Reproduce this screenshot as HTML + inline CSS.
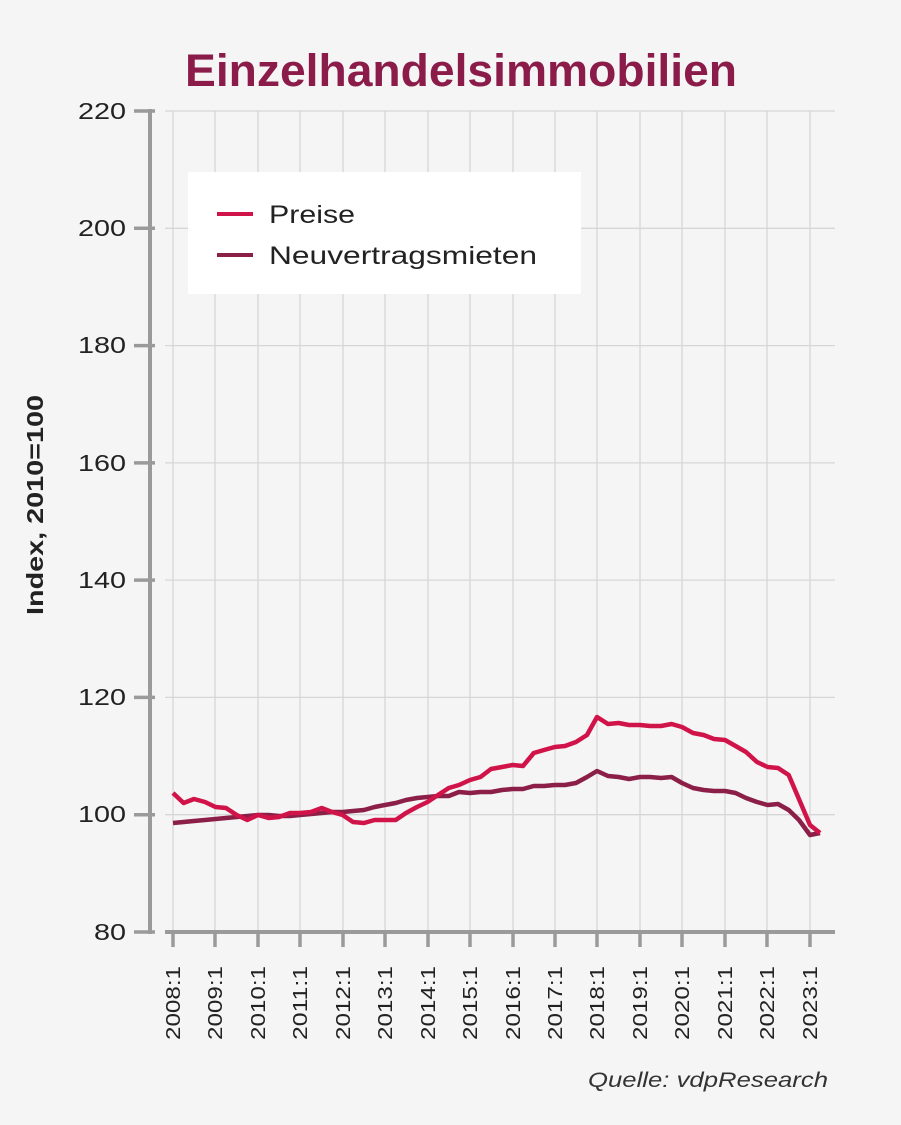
<!DOCTYPE html>
<html><head><meta charset="utf-8"><style>
html,body{margin:0;padding:0;background:#f5f5f5;}
svg{display:block;font-family:"Liberation Sans",sans-serif;}
</style></head><body>
<svg width="901" height="1125" viewBox="0 0 901 1125">
<rect width="901" height="1125" fill="#f5f5f5"/>
<text x="185" y="86" font-size="45" font-weight="bold" fill="#8b1c4a" textLength="552" lengthAdjust="spacingAndGlyphs">Einzelhandelsimmobilien</text>
<g stroke="#d6d6d6" stroke-width="1.3">
<line x1="165" y1="111" x2="835" y2="111"/><line x1="165" y1="228.3" x2="835" y2="228.3"/><line x1="165" y1="345.6" x2="835" y2="345.6"/><line x1="165" y1="462.9" x2="835" y2="462.9"/><line x1="165" y1="580.1" x2="835" y2="580.1"/><line x1="165" y1="697.4" x2="835" y2="697.4"/><line x1="165" y1="814.7" x2="835" y2="814.7"/>
<line x1="173" y1="111" x2="173" y2="932"/><line x1="215" y1="111" x2="215" y2="932"/><line x1="258" y1="111" x2="258" y2="932"/><line x1="300" y1="111" x2="300" y2="932"/><line x1="343" y1="111" x2="343" y2="932"/><line x1="385" y1="111" x2="385" y2="932"/><line x1="428" y1="111" x2="428" y2="932"/><line x1="470" y1="111" x2="470" y2="932"/><line x1="513" y1="111" x2="513" y2="932"/><line x1="555" y1="111" x2="555" y2="932"/><line x1="597" y1="111" x2="597" y2="932"/><line x1="640" y1="111" x2="640" y2="932"/><line x1="682" y1="111" x2="682" y2="932"/><line x1="725" y1="111" x2="725" y2="932"/><line x1="767" y1="111" x2="767" y2="932"/><line x1="810" y1="111" x2="810" y2="932"/>
</g>
<g stroke="#9a9a9a" stroke-width="4" fill="none">
<line x1="150" y1="109" x2="150" y2="934"/>
<line x1="165" y1="932" x2="835" y2="932"/>
<g stroke-width="3.5"><line x1="134" y1="111" x2="155" y2="111"/><line x1="134" y1="228.3" x2="155" y2="228.3"/><line x1="134" y1="345.6" x2="155" y2="345.6"/><line x1="134" y1="462.9" x2="155" y2="462.9"/><line x1="134" y1="580.1" x2="155" y2="580.1"/><line x1="134" y1="697.4" x2="155" y2="697.4"/><line x1="134" y1="814.7" x2="155" y2="814.7"/><line x1="134" y1="932" x2="155" y2="932"/></g>
<g stroke-width="3.5"><line x1="173" y1="932" x2="173" y2="947"/><line x1="215" y1="932" x2="215" y2="947"/><line x1="258" y1="932" x2="258" y2="947"/><line x1="300" y1="932" x2="300" y2="947"/><line x1="343" y1="932" x2="343" y2="947"/><line x1="385" y1="932" x2="385" y2="947"/><line x1="428" y1="932" x2="428" y2="947"/><line x1="470" y1="932" x2="470" y2="947"/><line x1="513" y1="932" x2="513" y2="947"/><line x1="555" y1="932" x2="555" y2="947"/><line x1="597" y1="932" x2="597" y2="947"/><line x1="640" y1="932" x2="640" y2="947"/><line x1="682" y1="932" x2="682" y2="947"/><line x1="725" y1="932" x2="725" y2="947"/><line x1="767" y1="932" x2="767" y2="947"/><line x1="810" y1="932" x2="810" y2="947"/></g>
</g>
<g font-size="23" fill="#222" text-anchor="end" lengthAdjust="spacingAndGlyphs">
<text x="126" y="119" textLength="48" lengthAdjust="spacingAndGlyphs">220</text><text x="126" y="236" textLength="48" lengthAdjust="spacingAndGlyphs">200</text><text x="126" y="353" textLength="48" lengthAdjust="spacingAndGlyphs">180</text><text x="126" y="471" textLength="48" lengthAdjust="spacingAndGlyphs">160</text><text x="126" y="588" textLength="48" lengthAdjust="spacingAndGlyphs">140</text><text x="126" y="705" textLength="48" lengthAdjust="spacingAndGlyphs">120</text><text x="126" y="822" textLength="48" lengthAdjust="spacingAndGlyphs">100</text><text x="126" y="940" textLength="32" lengthAdjust="spacingAndGlyphs">80</text>
</g>
<g font-size="20" fill="#222" text-anchor="end">
<text transform="translate(180,966) rotate(-90)" textLength="74" lengthAdjust="spacingAndGlyphs">2008:1</text><text transform="translate(222,966) rotate(-90)" textLength="74" lengthAdjust="spacingAndGlyphs">2009:1</text><text transform="translate(265,966) rotate(-90)" textLength="74" lengthAdjust="spacingAndGlyphs">2010:1</text><text transform="translate(307,966) rotate(-90)" textLength="74" lengthAdjust="spacingAndGlyphs">2011:1</text><text transform="translate(350,966) rotate(-90)" textLength="74" lengthAdjust="spacingAndGlyphs">2012:1</text><text transform="translate(392,966) rotate(-90)" textLength="74" lengthAdjust="spacingAndGlyphs">2013:1</text><text transform="translate(435,966) rotate(-90)" textLength="74" lengthAdjust="spacingAndGlyphs">2014:1</text><text transform="translate(477,966) rotate(-90)" textLength="74" lengthAdjust="spacingAndGlyphs">2015:1</text><text transform="translate(520,966) rotate(-90)" textLength="74" lengthAdjust="spacingAndGlyphs">2016:1</text><text transform="translate(562,966) rotate(-90)" textLength="74" lengthAdjust="spacingAndGlyphs">2017:1</text><text transform="translate(604,966) rotate(-90)" textLength="74" lengthAdjust="spacingAndGlyphs">2018:1</text><text transform="translate(647,966) rotate(-90)" textLength="74" lengthAdjust="spacingAndGlyphs">2019:1</text><text transform="translate(689,966) rotate(-90)" textLength="74" lengthAdjust="spacingAndGlyphs">2020:1</text><text transform="translate(732,966) rotate(-90)" textLength="74" lengthAdjust="spacingAndGlyphs">2021:1</text><text transform="translate(774,966) rotate(-90)" textLength="74" lengthAdjust="spacingAndGlyphs">2022:1</text><text transform="translate(817,966) rotate(-90)" textLength="74" lengthAdjust="spacingAndGlyphs">2023:1</text>
</g>
<text transform="translate(43,615) rotate(-90)" font-size="23" font-weight="bold" fill="#222" textLength="220" lengthAdjust="spacingAndGlyphs">Index, 2010=100</text>
<text x="588" y="1087" font-size="21" font-style="italic" fill="#333" textLength="240" lengthAdjust="spacingAndGlyphs">Quelle: vdpResearch</text>
<rect x="188" y="172" width="393" height="122" fill="#fff"/>
<line x1="217" y1="214" x2="253" y2="214" stroke="#d0144a" stroke-width="4"/>
<line x1="217" y1="255" x2="253" y2="255" stroke="#8b1f48" stroke-width="4"/>
<text x="269" y="223" font-size="25" fill="#222" textLength="86" lengthAdjust="spacingAndGlyphs">Preise</text>
<text x="269" y="264" font-size="25" fill="#222" textLength="268" lengthAdjust="spacingAndGlyphs">Neuvertragsmieten</text>
<polyline fill="none" stroke="#8b1f48" stroke-width="4.5" stroke-linejoin="round" points="173,823 183.6,822 194,821 205,820 215.5,819 226,818 236.7,817 247.3,816 258,815 268.6,815 279,816 290,816 300,815 311,814 321.7,813 332,812 342.6,812 353,811 364,810 374.6,807 385,805 395.7,803 406,800 417,798 427.5,797 438,796 448.8,796 459,792 470,793 480.5,792 491,792 502,790 512.6,789 523,789 533.8,786 544,786 554.8,785 565,785 576,783 587,777 597,771 608,776 618.6,777 629,779 640,777 650,777 661,778 671.6,777 682,783 693,788 703.6,790 714,791 725,791 735.6,793 746,798 757,802 767.6,805 778,804 788.7,810 799,820 810,835 820,833"/>
<polyline fill="none" stroke="#d0144a" stroke-width="4.5" stroke-linejoin="round" points="173,793 183.6,803 194,799 205,802 215.5,807 226,808 236.7,815 247.3,820 258,815 268.6,818 279,817 290,813 300,813 311,812 321.7,808 332,812 342.6,815 353,822 364,823 374.6,820 385,820 395.7,820 406,813 417,807 427.5,802 438,795 448.8,788 459,785 470,780 480.5,777 491,769 502,767 512.6,765 523,766 533.8,753 544,750 554.8,747 565,746 576,742 587,735 597,717 608,724 618.6,723 629,725 640,725 650,726 661,726 671.6,724 682,727 693,733 703.6,735 714,739 725,740 735.6,746 746,752 757,762 767.6,767 778,768 788.7,775 810,825 820,833"/>
</svg>
</body></html>
